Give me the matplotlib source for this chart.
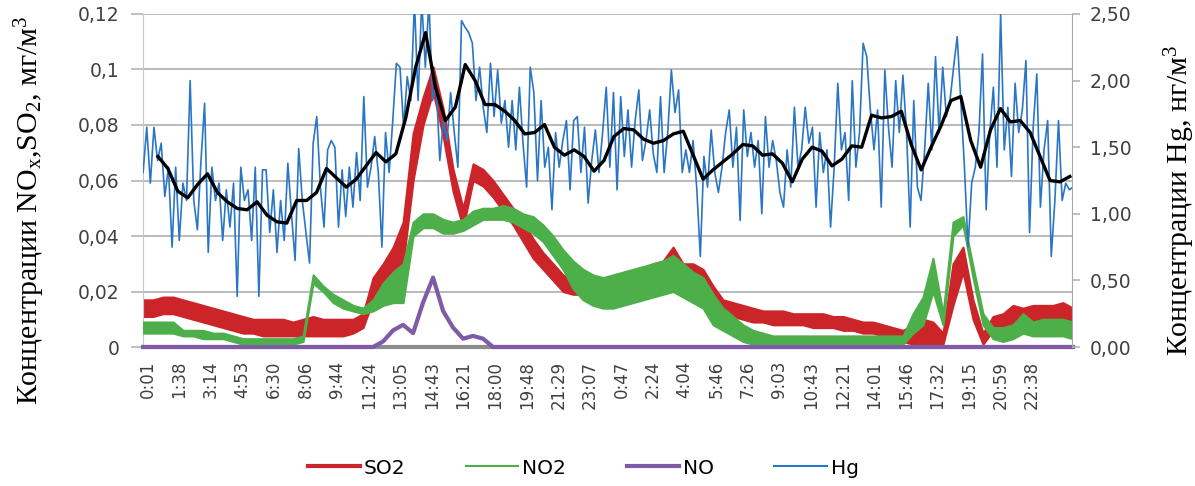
import numpy as np
import matplotlib
matplotlib.use("Agg")
import matplotlib.pyplot as plt
from matplotlib.lines import Line2D

# x-axis: category labels (one label every ~97 records)
tick_labels = ["0:01", "1:38", "3:14", "4:53", "6:30", "8:06", "9:44", "11:24", "13:05",
               "14:43", "16:21", "18:00", "19:48", "21:29", "23:07", "0:47", "2:24", "4:04",
               "5:46", "7:26", "9:03", "10:43", "12:21", "14:01", "15:46", "17:32", "19:15",
               "20:59", "22:38"]
# record range in label-interval units
rec_start, rec_end = -0.14, 29.29
ma_start, ma_end = 0.33, 29.19

# SO2, mg/m3 (noisy band: low / high)
so2_lo = [0.011, 0.011, 0.012, 0.012, 0.011, 0.010, 0.009, 0.008, 0.007, 0.006,
          0.005, 0.005, 0.004, 0.004, 0.004, 0.004, 0.004, 0.004, 0.004, 0.004,
          0.004, 0.005, 0.007, 0.017, 0.022, 0.027, 0.030, 0.060, 0.080, 0.092,
          0.076, 0.056, 0.043, 0.060, 0.058, 0.054, 0.049, 0.044, 0.038, 0.032,
          0.028, 0.024, 0.020, 0.019, 0.019, 0.020, 0.020, 0.020, 0.021, 0.022,
          0.023, 0.025, 0.026, 0.027, 0.026, 0.025, 0.022, 0.015, 0.012, 0.011,
          0.010, 0.009, 0.009, 0.008, 0.008, 0.008, 0.008, 0.007, 0.007, 0.007,
          0.006, 0.006, 0.005, 0.005, 0.004, 0.003, 0.002, 0.001, 0.001, 0.001,
          0.001, 0.015, 0.027, 0.010, 0.001, 0.006, 0.006, 0.008, 0.008, 0.009,
          0.009, 0.009, 0.009, 0.008]
so2_hi = [0.017, 0.017, 0.018, 0.018, 0.017, 0.016, 0.015, 0.014, 0.013, 0.012,
          0.011, 0.010, 0.010, 0.010, 0.010, 0.009, 0.010, 0.011, 0.010, 0.010,
          0.010, 0.010, 0.012, 0.025, 0.030, 0.036, 0.045, 0.077, 0.090, 0.101,
          0.086, 0.064, 0.050, 0.066, 0.064, 0.060, 0.055, 0.050, 0.045, 0.039,
          0.034, 0.030, 0.026, 0.024, 0.025, 0.025, 0.025, 0.025, 0.026, 0.027,
          0.028, 0.030, 0.031, 0.036, 0.030, 0.030, 0.028, 0.022, 0.017, 0.016,
          0.015, 0.014, 0.013, 0.013, 0.013, 0.012, 0.012, 0.012, 0.012, 0.011,
          0.011, 0.010, 0.009, 0.009, 0.008, 0.007, 0.006, 0.008, 0.010, 0.009,
          0.005, 0.030, 0.036, 0.017, 0.005, 0.011, 0.012, 0.015, 0.014, 0.015,
          0.015, 0.015, 0.016, 0.014]

# NO2, mg/m3
no2_lo = [0.005, 0.005, 0.005, 0.005, 0.004, 0.004, 0.003, 0.003, 0.003, 0.002,
          0.001, 0.001, 0.001, 0.001, 0.001, 0.001, 0.002, 0.023, 0.020, 0.016,
          0.014, 0.013, 0.012, 0.013, 0.015, 0.016, 0.016, 0.040, 0.043, 0.043,
          0.041, 0.041, 0.042, 0.044, 0.046, 0.046, 0.046, 0.045, 0.043, 0.041,
          0.038, 0.033, 0.028, 0.021, 0.017, 0.015, 0.014, 0.014, 0.015, 0.016,
          0.017, 0.018, 0.019, 0.020, 0.018, 0.016, 0.014, 0.008, 0.006, 0.004,
          0.002, 0.001, 0.001, 0.001, 0.001, 0.001, 0.001, 0.001, 0.001, 0.001,
          0.001, 0.001, 0.001, 0.001, 0.001, 0.001, 0.001, 0.005, 0.008, 0.020,
          0.008, 0.040, 0.044, 0.025, 0.008, 0.003, 0.002, 0.003, 0.005, 0.004,
          0.004, 0.004, 0.004, 0.003]
no2_hi = [0.009, 0.009, 0.009, 0.009, 0.006, 0.006, 0.006, 0.005, 0.005, 0.004,
          0.003, 0.003, 0.003, 0.003, 0.003, 0.003, 0.004, 0.026, 0.022, 0.019,
          0.017, 0.015, 0.014, 0.017, 0.023, 0.027, 0.030, 0.045, 0.048, 0.048,
          0.046, 0.045, 0.046, 0.049, 0.050, 0.050, 0.051, 0.050, 0.048, 0.047,
          0.044, 0.040, 0.035, 0.031, 0.028, 0.026, 0.025, 0.026, 0.027, 0.028,
          0.029, 0.030, 0.031, 0.033, 0.030, 0.027, 0.025, 0.019, 0.014, 0.011,
          0.008, 0.006, 0.005, 0.004, 0.004, 0.004, 0.004, 0.004, 0.004, 0.004,
          0.004, 0.004, 0.004, 0.004, 0.004, 0.004, 0.004, 0.012, 0.018, 0.032,
          0.012, 0.045, 0.047, 0.029, 0.012, 0.007, 0.007, 0.008, 0.012, 0.009,
          0.010, 0.010, 0.010, 0.009]

# NO, mg/m3
no = [0.0] * 24 + [0.002, 0.006, 0.008, 0.005, 0.016, 0.025, 0.013, 0.007, 0.003,
                   0.004, 0.003] + [0.0] * 59

# Hg, ng/m3
hg = [1.31, 1.65, 1.23, 1.65, 1.40, 1.53, 1.13, 1.35, 0.75, 1.35, 0.80, 1.23, 1.10, 2.00,
      1.10, 0.88, 1.40, 1.83, 0.71, 1.35, 1.10, 1.23, 0.80, 1.18, 0.90, 1.23, 0.38, 1.35,
      1.10, 1.18, 0.80, 1.35, 0.38, 1.33, 1.33, 0.86,
      1.18, 0.71, 1.10, 0.80, 1.38, 1.00, 0.65, 1.49, 1.10, 0.86, 0.63, 1.53, 1.73, 1.20,
      0.90, 1.48, 1.55, 1.50, 0.90, 1.33, 0.98, 1.35, 1.05, 1.46, 1.10, 1.88, 1.20, 1.35,
      1.58, 1.31, 0.75, 1.61, 1.31, 1.70, 2.13,
      2.10, 1.65, 2.03, 1.85, 2.60, 1.85, 2.60, 2.10, 2.60, 1.85, 1.98, 1.40, 1.70, 1.55,
      1.91, 1.61, 1.35, 2.45, 2.40, 2.36, 2.28, 1.85, 2.10, 1.80, 1.61, 2.13, 1.73, 2.08,
      1.68, 1.85, 1.50, 1.85, 1.48, 1.95, 1.53, 1.20, 2.10,
      1.91, 1.25, 1.85, 1.35, 1.50, 1.03, 1.61, 1.35, 1.55, 1.70, 1.18, 1.70, 1.73, 1.31,
      1.65, 1.08, 1.40, 1.63, 1.31, 1.61, 1.95, 1.35, 1.91, 1.18, 1.88, 1.43, 1.78, 1.35,
      1.70, 1.93, 1.40, 1.55, 1.78, 1.45, 1.31,
      1.88, 1.31, 1.61, 2.08, 1.76, 1.93, 1.31, 1.48, 1.31, 1.55, 1.20, 0.68, 1.43, 1.20,
      1.63, 1.31, 1.16, 1.35, 1.61, 1.78, 1.35, 1.65, 0.95, 1.78, 1.43, 1.61, 1.35, 1.55,
      1.00, 1.73, 1.35, 1.55, 1.40, 1.16, 1.05,
      1.48, 1.20, 1.80, 1.35, 1.48, 1.80, 1.53, 1.65, 1.05, 1.61, 1.31, 1.48, 0.90, 1.35,
      1.98, 1.48, 1.61, 1.10, 2.00, 1.35, 1.61, 2.28, 2.18, 1.78, 1.48, 1.78, 1.05, 2.08,
      1.65, 1.35, 2.00, 1.61, 2.04, 1.61, 0.90, 1.85,
      1.20, 1.10, 1.48, 1.98, 1.48, 2.18, 1.61, 2.10, 1.73, 1.85, 2.10, 2.33, 1.85, 1.35,
      0.75, 1.23, 1.35, 1.61, 2.20, 1.03, 1.61, 1.95, 1.35, 2.50, 1.48, 1.80, 1.28, 1.98,
      1.61, 1.78, 2.15, 0.86, 1.65, 2.05, 1.05, 1.48, 1.70, 0.68, 1.10, 1.70, 1.10, 1.23,
      1.18, 1.20]

# Hg moving average, ng/m3
hg_ma = [1.43, 1.34, 1.17, 1.12, 1.22, 1.30, 1.16, 1.09, 1.04, 1.03, 1.09, 0.99, 0.94, 0.93,
         1.10, 1.10, 1.16, 1.34, 1.27, 1.20, 1.26, 1.36, 1.46, 1.39, 1.45, 1.72, 2.10, 2.36,
         1.95, 1.70, 1.80, 2.12, 2.00, 1.82, 1.82, 1.77, 1.70, 1.60, 1.61, 1.67, 1.50, 1.44,
         1.48, 1.43, 1.32, 1.40, 1.58, 1.64, 1.63, 1.56, 1.53, 1.55, 1.60, 1.62, 1.44, 1.26,
         1.33, 1.39, 1.45, 1.52, 1.51, 1.44, 1.45, 1.38, 1.24, 1.41, 1.50, 1.47, 1.36, 1.41,
         1.51, 1.50, 1.74, 1.72, 1.73, 1.77, 1.52, 1.33, 1.50, 1.66, 1.85, 1.88, 1.55, 1.35,
         1.63, 1.79, 1.69, 1.70, 1.61, 1.43, 1.25, 1.24, 1.28]

c_so2 = "#cc2529"
c_no2 = "#4caf4a"
c_no = "#7e5aa8"
c_hg = "#2a76c6"

plt.rcParams["font.family"] = ["DejaVu Sans"]
plt.rcParams["mathtext.default"] = "regular"

fig = plt.figure(figsize=(11.95, 4.86), dpi=100)
ax = fig.add_axes([0.1197, 0.286, 0.7774, 0.6852])

x = np.linspace(rec_start, rec_end, len(so2_lo))
ax.fill_between(x, so2_lo, so2_hi, facecolor=c_so2, edgecolor=c_so2, linewidth=1.5, zorder=2)
ax.fill_between(x, no2_lo, no2_hi, facecolor=c_no2, edgecolor=c_no2, linewidth=1.5, zorder=3)
ax.plot(x, no, color=c_no, linewidth=3, zorder=4, clip_on=False)

ax.set_xlim(-0.142, 29.26)
ax.set_ylim(0, 0.12)
ax.set_yticks([0, 0.02, 0.04, 0.06, 0.08, 0.1, 0.12])
ax.set_yticklabels(["0", "0,02", "0,04", "0,06", "0,08", "0,1", "0,12"])
ax.set_xticks(range(len(tick_labels)))
ax.set_xticklabels(tick_labels, rotation=90)
ax.grid(axis="y", color="#b4b4b4", linewidth=1.3)
ax.set_axisbelow(True)
ax.tick_params(axis="y", length=9, width=1.2, color="#b4b4b4", labelsize=13.5,
               labelcolor="#404040", pad=8)
ax.tick_params(axis="x", length=0, labelsize=12, labelcolor="#404040", pad=10)
ax.spines["top"].set_visible(False)
ax.spines["right"].set_visible(False)
ax.spines["left"].set_color("#c8c8c8")
ax.spines["bottom"].set_color("#8c8c8c")
ax.spines["bottom"].set_linewidth(3)

ax2 = ax.twinx()
xh = np.linspace(rec_start, rec_end, len(hg))
ax2.plot(xh, hg, color=c_hg, linewidth=1.2, zorder=2)
xm = np.linspace(ma_start, ma_end, len(hg_ma))
ax2.plot(xm, hg_ma, color="black", linewidth=2.4, zorder=3)
ax2.set_ylim(0, 2.5)
ax2.set_yticks([0, 0.5, 1.0, 1.5, 2.0, 2.5])
ax2.set_yticklabels(["0,00", "0,50", "1,00", "1,50", "2,00", "2,50"])
ax2.tick_params(axis="y", length=6, width=1.2, color="#b4b4b4", labelsize=13.5,
                labelcolor="#404040", pad=7)
for s in ["top", "left", "bottom"]:
    ax2.spines[s].set_visible(False)
ax2.spines["right"].set_color("#a8a8a8")

fig.text(0.025, 0.568, "Концентрации NO$_x$,SO$_2$, мг/м$^3$", rotation=90,
         ha="center", va="center", fontsize=21.5, family="Liberation Serif")
fig.text(0.987, 0.588, "Концентрации Hg, нг/м$^3$", rotation=90,
         ha="center", va="center", fontsize=21.5, family="Liberation Serif")

handles = [Line2D([], [], color=c_so2, linewidth=3),
           Line2D([], [], color=c_no2, linewidth=1.5),
           Line2D([], [], color=c_no, linewidth=3),
           Line2D([], [], color=c_hg, linewidth=1.5)]
fig.legend(handles, ["SO2", "NO2", "NO", "Hg"], loc="center", ncol=4,
           bbox_to_anchor=(0.488, 0.037), frameon=False, fontsize=14.5,
           handlelength=2.6, columnspacing=3.0, handletextpad=0.2)

fig.savefig("out.png", dpi=100)
